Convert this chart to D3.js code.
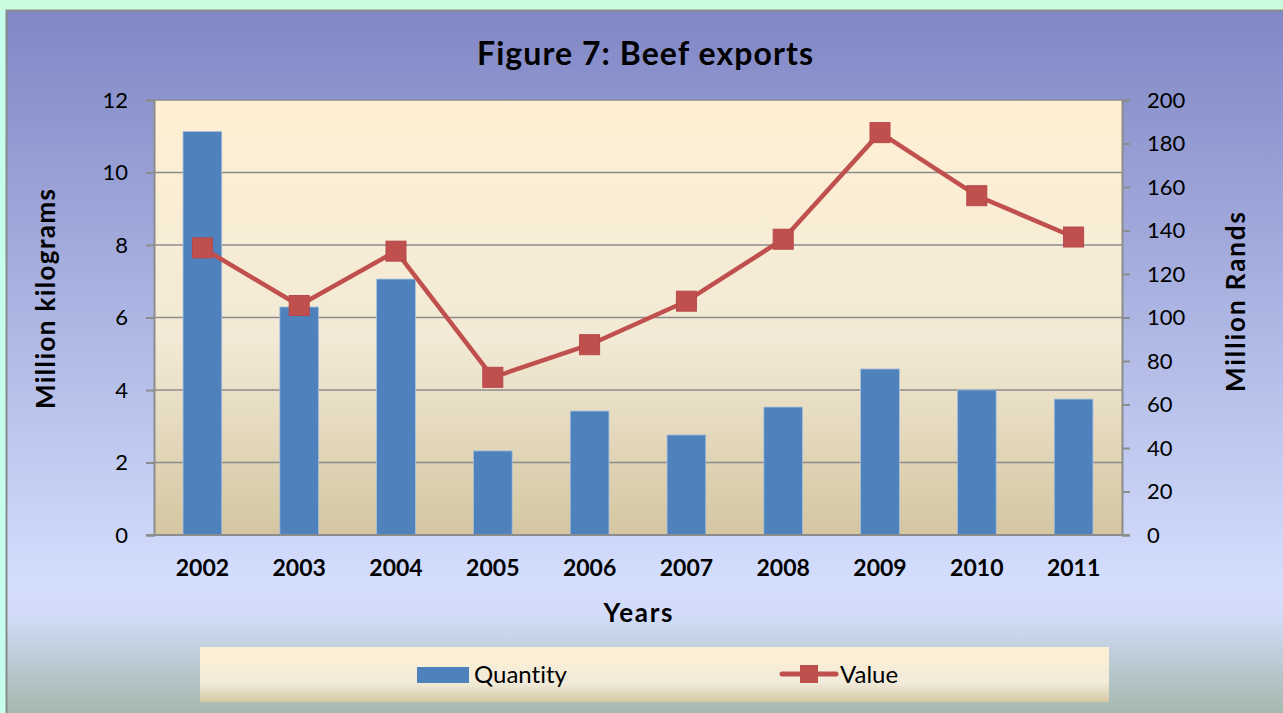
<!DOCTYPE html>
<html>
<head>
<meta charset="utf-8">
<script src="https://cdn.jsdelivr.net/npm/d3@7"></script>
<style>
  html, body { margin: 0; padding: 0; background: #c8fcdc; }
  svg { display: block; }
  text { font-variant-ligatures: none; }
</style>
</head>
<body>
<svg id="chart" width="1283" height="713"></svg>
<script>
// Beef exports: quantity (million kg, bars) and value (million Rands, line)
const years = ["2002","2003","2004","2005","2006","2007","2008","2009","2010","2011"];
const quantity = [11.13, 6.29, 7.06, 2.32, 3.42, 2.76, 3.53, 4.58, 4.0, 3.75];
const value = [132, 105.5, 130.5, 72.5, 87.5, 107.5, 136, 185, 156, 137];
const leftTicks = [0, 2, 4, 6, 8, 10, 12];
const rightTicks = [0, 20, 40, 60, 80, 100, 120, 140, 160, 180, 200];

const FONT = "Lato, 'Open Sans', sans-serif";
const svg = d3.select("#chart");
const defs = svg.append("defs");

const bg = defs.append("linearGradient").attr("id", "bgGrad")
  .attr("x1", 0).attr("y1", 0).attr("x2", 0).attr("y2", 1);
bg.append("stop").attr("offset", "0%").attr("stop-color", "#8087c5");
bg.append("stop").attr("offset", "80%").attr("stop-color", "#d4defd");
bg.append("stop").attr("offset", "84%").attr("stop-color", "#d2dcf8");
bg.append("stop").attr("offset", "100%").attr("stop-color", "#9bb2a0");

const plotGrad = defs.append("linearGradient").attr("id", "plotGrad")
  .attr("x1", 0).attr("y1", 0).attr("x2", 0).attr("y2", 1);
plotGrad.append("stop").attr("offset", "0%").attr("stop-color", "#fff0d4");
plotGrad.append("stop").attr("offset", "55%").attr("stop-color", "#f2ead6");
plotGrad.append("stop").attr("offset", "100%").attr("stop-color", "#d4c6a1");

const legGrad = defs.append("linearGradient").attr("id", "legGrad")
  .attr("x1", 0).attr("y1", 0).attr("x2", 0).attr("y2", 1);
legGrad.append("stop").attr("offset", "0%").attr("stop-color", "#fff0d4");
legGrad.append("stop").attr("offset", "65%").attr("stop-color", "#f1ebda");
legGrad.append("stop").attr("offset", "100%").attr("stop-color", "#d6c8a3");

// chart area background with border
svg.append("rect").attr("x", 0).attr("y", 0).attr("width", 1283).attr("height", 713)
  .attr("fill", "#c8fcdc");
svg.append("rect").attr("x", 0).attr("y", 10).attr("width", 6).attr("height", 703)
  .attr("fill", "#c6fdec");
svg.append("rect").attr("x", 6.5).attr("y", 10.5).attr("width", 1290).attr("height", 720)
  .attr("fill", "url(#bgGrad)").attr("stroke", "#8a8a8a").attr("stroke-width", 2);

const m = { left: 154, right: 1122, top: 100, bottom: 535 };

const x = d3.scaleBand().domain(years).range([m.left, m.right])
  .paddingInner(0.6).paddingOuter(0.3);
const yL = d3.scaleLinear().domain([0, 12]).range([m.bottom, m.top]);
const yR = d3.scaleLinear().domain([0, 200]).range([m.bottom, m.top]);

// plot area
svg.append("rect").attr("x", m.left).attr("y", m.top)
  .attr("width", m.right - m.left).attr("height", m.bottom - m.top)
  .attr("fill", "url(#plotGrad)");

// gridlines
svg.append("g").selectAll("line").data(leftTicks.filter(d => d > 0)).join("line")
  .attr("x1", m.left).attr("x2", m.right)
  .attr("y1", d => yL(d)).attr("y2", d => yL(d))
  .attr("stroke", "#8c8c8c").attr("stroke-width", 1.5);

// left axis
const axL = svg.append("g").attr("transform", `translate(${m.left},0)`)
  .call(d3.axisLeft(yL).tickValues(leftTicks).tickSize(8).tickPadding(18));
axL.select(".domain").attr("stroke", "#8c8c8c").attr("stroke-width", 2);
axL.selectAll(".tick line").attr("stroke", "#8c8c8c").attr("stroke-width", 2);
axL.selectAll("text").attr("font-family", FONT).attr("font-size", 22).attr("fill", "#000");

// right axis
const axR = svg.append("g").attr("transform", `translate(${m.right},0)`)
  .call(d3.axisRight(yR).tickValues(rightTicks).tickSize(8).tickPadding(17));
axR.select(".domain").attr("stroke", "#8c8c8c").attr("stroke-width", 2);
axR.selectAll(".tick line").attr("stroke", "#8c8c8c").attr("stroke-width", 2);
axR.selectAll("text").attr("font-family", FONT).attr("font-size", 22).attr("fill", "#000");

// bars
svg.append("g").selectAll("rect").data(years).join("rect")
  .attr("x", d => x(d)).attr("width", x.bandwidth())
  .attr("y", (d, i) => yL(quantity[i]))
  .attr("height", (d, i) => yL(0) - yL(quantity[i]))
  .attr("fill", "#4f81bd").attr("stroke", "#a9c0dc").attr("stroke-width", 0.8);

// bottom axis
const axB = svg.append("g").attr("transform", `translate(0,${m.bottom})`)
  .call(d3.axisBottom(x).tickSize(0).tickPadding(25));
axB.select(".domain").attr("stroke", "#8c8c8c").attr("stroke-width", 2)
  .attr("d", `M${m.left - 8},0H${m.right + 8}`);
axB.selectAll("text").attr("font-family", FONT).attr("font-size", 23)
  .attr("font-weight", "bold").attr("fill", "#000");

// value line
const line = d3.line().x((d, i) => x(years[i]) + x.bandwidth() / 2).y(d => yR(d));
svg.append("path").datum(value).attr("d", line)
  .attr("fill", "none").attr("stroke", "#c0504d").attr("stroke-width", 4.5)
  .attr("stroke-linejoin", "round");
svg.append("g").selectAll("rect").data(value).join("rect")
  .attr("x", (d, i) => x(years[i]) + x.bandwidth() / 2 - 10)
  .attr("y", d => yR(d) - 10)
  .attr("width", 20).attr("height", 20)
  .attr("fill", "#c0504d").attr("stroke", "#b9474a").attr("stroke-width", 1);

// titles
svg.append("text").attr("x", 645).attr("y", 65).attr("text-anchor", "middle")
  .attr("font-family", FONT).attr("font-weight", "bold").attr("font-size", 32)
  .attr("textLength", 336).attr("lengthAdjust", "spacing")
  .text("Figure 7: Beef exports");
svg.append("text").attr("transform", "translate(55,299) rotate(-90)")
  .attr("text-anchor", "middle").attr("font-family", FONT).attr("font-weight", "bold")
  .attr("font-size", 26).attr("textLength", 220).attr("lengthAdjust", "spacing")
  .text("Million kilograms");
svg.append("text").attr("transform", "translate(1245,302) rotate(-90)")
  .attr("text-anchor", "middle").attr("font-family", FONT).attr("font-weight", "bold")
  .attr("font-size", 26).attr("textLength", 180).attr("lengthAdjust", "spacing")
  .text("Million Rands");
svg.append("text").attr("x", 638).attr("y", 622).attr("text-anchor", "middle")
  .attr("font-family", FONT).attr("font-weight", "bold").attr("font-size", 26)
  .attr("textLength", 69).attr("lengthAdjust", "spacing")
  .text("Years");

// legend
const leg = svg.append("g");
leg.append("rect").attr("x", 200).attr("y", 647).attr("width", 909).attr("height", 55)
  .attr("fill", "url(#legGrad)");
leg.append("rect").attr("x", 417).attr("y", 667).attr("width", 52).attr("height", 16)
  .attr("fill", "#4f81bd");
leg.append("text").attr("x", 474).attr("y", 683).attr("font-family", FONT)
  .attr("font-size", 24).text("Quantity");
leg.append("line").attr("x1", 782).attr("x2", 836).attr("y1", 674).attr("y2", 674)
  .attr("stroke", "#c0504d").attr("stroke-width", 5).attr("stroke-linecap", "round");
leg.append("rect").attr("x", 800).attr("y", 665).attr("width", 18).attr("height", 18)
  .attr("fill", "#c0504d");
leg.append("text").attr("x", 840).attr("y", 683).attr("font-family", FONT)
  .attr("font-size", 24).text("Value");
</script>
</body>
</html>
